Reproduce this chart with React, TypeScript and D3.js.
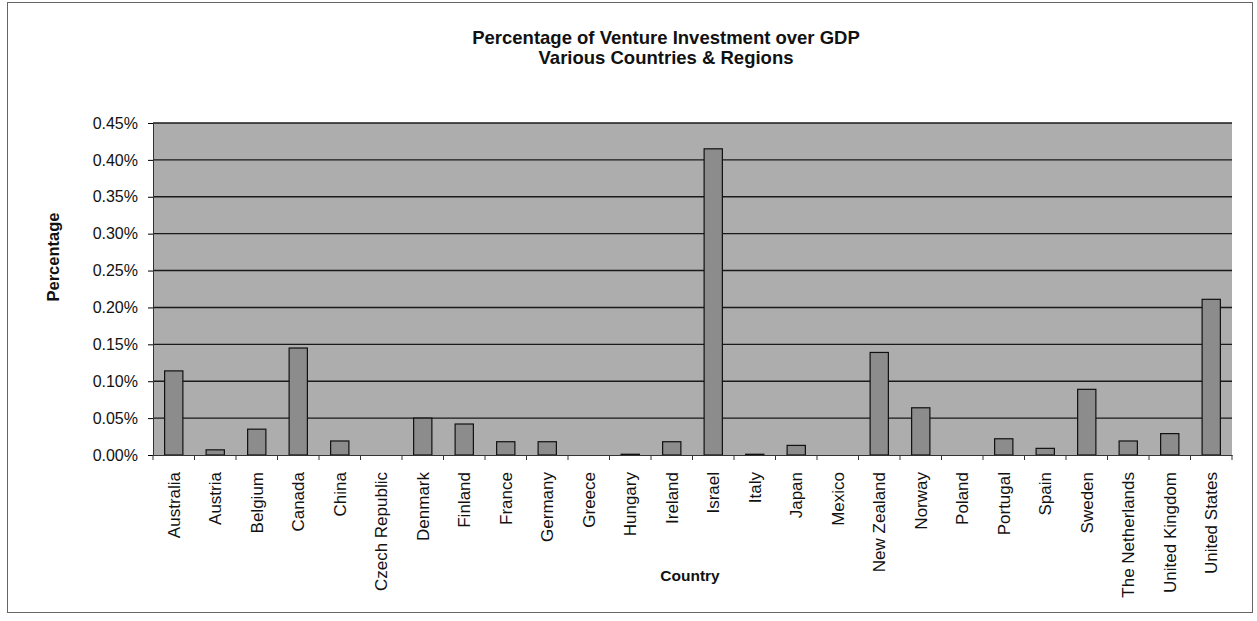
import React, { useEffect, useRef } from "react";
import * as d3 from "d3";

const countries = [
  "Australia", "Austria", "Belgium", "Canada", "China", "Czech Republic", "Denmark",
  "Finland", "France", "Germany", "Greece", "Hungary", "Ireland", "Israel", "Italy",
  "Japan", "Mexico", "New Zealand", "Norway", "Poland", "Portugal", "Spain", "Sweden",
  "The Netherlands", "United Kingdom", "United States",
];

// percent of GDP
const values = [
  0.114, 0.007, 0.035, 0.145, 0.019, 0, 0.05,
  0.042, 0.018, 0.018, 0, 0.001, 0.018, 0.415, 0.001,
  0.013, 0, 0.139, 0.064, 0, 0.022, 0.009, 0.089,
  0.019, 0.029, 0.211,
];

const yTicks = [0, 0.05, 0.1, 0.15, 0.2, 0.25, 0.3, 0.35, 0.4, 0.45];

export default function App() {
  const svgRef = useRef<SVGSVGElement>(null);

  useEffect(() => {
    if (!svgRef.current) return;
    const svg = d3.select(svgRef.current);
    svg.selectAll("*").remove();

    const width = 1257;
    const height = 621;
    const margin = { top: 123, right: 25, bottom: 166, left: 153 };
    const font = "Arial, 'Liberation Sans', sans-serif";

    // outer frame
    svg.append("rect")
      .attr("x", 7.5).attr("y", 2.5)
      .attr("width", 1245).attr("height", 610)
      .attr("fill", "#fff").attr("stroke", "#666").attr("stroke-width", 1);

    const x = d3.scaleBand()
      .domain(countries)
      .range([margin.left, width - margin.right]);

    const y = d3.scaleLinear()
      .domain([0, 0.45])
      .range([height - margin.bottom, margin.top]);

    // plot area
    svg.append("rect")
      .attr("x", margin.left).attr("y", margin.top)
      .attr("width", width - margin.left - margin.right)
      .attr("height", height - margin.top - margin.bottom)
      .attr("fill", "#adadad");

    // gridlines
    svg.append("g")
      .selectAll("line")
      .data(yTicks.slice(1))
      .enter()
      .append("line")
      .attr("x1", margin.left).attr("x2", width - margin.right)
      .attr("y1", d => y(d)).attr("y2", d => y(d))
      .attr("stroke", "#1a1a1a").attr("stroke-width", 1.4);

    // bars
    const bw = x.bandwidth() * 0.44;
    svg.append("g")
      .selectAll("rect")
      .data(values)
      .enter()
      .append("rect")
      .attr("x", (d, i) => (x(countries[i]) as number) + (x.bandwidth() - bw) / 2)
      .attr("y", d => y(d))
      .attr("width", bw)
      .attr("height", d => y(0) - y(d))
      .attr("fill", "#8c8c8c")
      .attr("stroke", "#111")
      .attr("stroke-width", 1.2);

    // y axis
    const yAxis = svg.append("g")
      .attr("transform", `translate(${margin.left},0)`)
      .call(d3.axisLeft(y).tickValues(yTicks).tickSize(5).tickPadding(10)
        .tickFormat(d => (d as number).toFixed(2) + "%"));
    yAxis.select(".domain").attr("stroke", "#333");
    yAxis.selectAll("text").attr("font-family", font).attr("font-size", 16).attr("fill", "#111");

    // x axis
    const xAxis = svg.append("g")
      .attr("transform", `translate(0,${height - margin.bottom})`)
      .call(d3.axisBottom(x).tickSize(0).tickSizeOuter(0));
    xAxis.select(".domain").attr("stroke", "#333");
    xAxis.selectAll(".tick line").remove();
    xAxis.selectAll("text")
      .attr("font-family", font).attr("font-size", 17).attr("fill", "#111")
      .attr("transform", "rotate(-90)")
      .attr("text-anchor", "end")
      .attr("x", -17).attr("y", 0).attr("dy", "0.35em");

    // x tick marks at band boundaries
    svg.append("g")
      .selectAll("line")
      .data(countries.concat(["__end"]))
      .enter()
      .append("line")
      .attr("x1", (d, i) => margin.left + i * x.step())
      .attr("x2", (d, i) => margin.left + i * x.step())
      .attr("y1", height - margin.bottom)
      .attr("y2", height - margin.bottom + 5)
      .attr("stroke", "#333");

    // titles
    const title = svg.append("text")
      .attr("text-anchor", "middle")
      .attr("font-family", font).attr("font-size", 18.5).attr("font-weight", "bold").attr("fill", "#111");
    title.append("tspan").attr("x", 666).attr("y", 44).text("Percentage of Venture Investment over GDP");
    title.append("tspan").attr("x", 666).attr("y", 64).text("Various Countries & Regions");

    svg.append("text")
      .attr("transform", "translate(59,257) rotate(-90)")
      .attr("text-anchor", "middle")
      .attr("font-family", font).attr("font-size", 16.5).attr("font-weight", "bold").attr("fill", "#111")
      .text("Percentage");

    svg.append("text")
      .attr("x", 690).attr("y", 581)
      .attr("text-anchor", "middle")
      .attr("font-family", font).attr("font-size", 15.5).attr("font-weight", "bold").attr("fill", "#111")
      .text("Country");
  }, []);

  return (
    <svg
      ref={svgRef}
      width={1257}
      height={621}
      style={{ position: "absolute", left: 0, top: 0, background: "#fff" }}
    />
  );
}
